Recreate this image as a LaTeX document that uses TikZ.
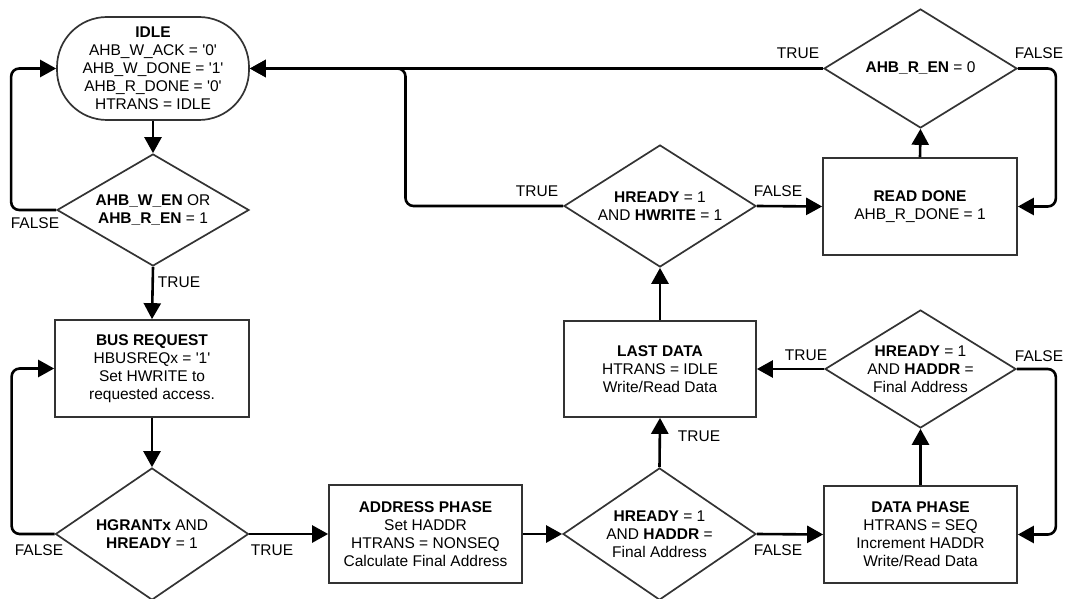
\documentclass[tikz,border=0pt]{standalone}
\usepackage{fontspec}
\setmainfont{Liberation Sans}[Ligatures=TeXOff]
\usetikzlibrary{arrows.meta,shapes.geometric}
\definecolor{edge}{RGB}{51,51,51}
\begin{document}
\begin{tikzpicture}[x=1pt,y=-1pt,
  font=\fontsize{15.5}{18}\selectfont,
  outline/.style={draw=edge,line width=1.7pt,fill=white,align=center,inner sep=0pt},
  box/.style={outline,rectangle,minimum width=193pt,minimum height=97pt},
  test/.style={outline,diamond,minimum width=193pt},
  wire/.style={line width=2.6pt,rounded corners=8pt,-{Triangle[length=16pt,width=17pt]}},
  tag/.style={inner sep=0pt}]
\useasboundingbox (0,0) rectangle (1065,599);

% states
\node[outline,rectangle,rounded corners=50pt,minimum width=192pt,minimum height=103pt] (idle) at (153,68.5)
  {\textbf{IDLE}\\AHB\_W\_ACK = '0'\\AHB\_W\_DONE = '1'\\AHB\_R\_DONE = '0'\\HTRANS = IDLE};
\node[box,minimum width=194pt] (busreq) at (152,368.5)
  {\textbf{BUS REQUEST}\\HBUSREQx = '1'\\Set HWRITE to\\requested access.};
\node[box,minimum height=98pt] (addr) at (425.5,534)
  {\textbf{ADDRESS PHASE}\\Set HADDR\\HTRANS = NONSEQ\\Calculate Final Address};
\node[box] (datap) at (920.5,534.5)
  {\textbf{DATA PHASE}\\HTRANS = SEQ\\Increment HADDR\\Write/Read Data};
\node[box,minimum width=192pt,minimum height=96pt] (lastd) at (660,369)
  {\textbf{LAST DATA}\\HTRANS = IDLE\\Write/Read Data};
\node[box,minimum width=194pt] (readd) at (920,206.5)
  {\textbf{READ DONE}\\AHB\_R\_DONE = 1};

% decisions
\node[test,minimum width=192pt,minimum height=112pt,
  label={[align=center]center:{\textbf{AHB\_W\_EN} OR\\\textbf{AHB\_R\_EN} = 1}}] (d1) at (153,210) {};
\node[test,minimum height=132pt,
  label={[align=center]center:{\textbf{HGRANTx} AND\\\textbf{HREADY} = 1}}] (d2) at (152,534) {};
\node[test,minimum height=132pt,
  label={[align=center]center:{\textbf{HREADY} = 1\\AND \textbf{HADDR} =\\Final Address}}] (d3) at (659.5,534) {};
\node[test,minimum width=191pt,minimum height=118pt,
  label={[align=center]center:{\textbf{HREADY} = 1\\AND \textbf{HADDR} =\\Final Address}}] (d4) at (920.5,369) {};
\node[test,minimum width=192pt,minimum height=122pt,
  label={[align=center]center:{\textbf{HREADY} = 1\\AND \textbf{HWRITE} = 1}}] (d5) at (660,206) {};
\node[test,minimum height=119pt,
  label={center:{\textbf{AHB\_R\_EN} = 0}}] (d6) at (920.5,68.5) {};

% transitions
\draw[wire] (idle.south) -- (d1.north);
\draw[wire] (d1.south) -- (busreq.north);
\draw[wire] (d1.west) -- ++(-45,0) |- (idle.west);
\draw[wire] (busreq.south) -- (d2.north);
\draw[wire] (d2.west) -- ++(-43,0) |- (busreq.west);
\draw[wire] (d2.east) -- (addr.west);
\draw[wire] (addr.east) -- (d3.west);
\draw[wire] (d3.east) -- (datap.west);
\draw[wire] (d3.north) -- (lastd.south);
\draw[wire] (datap.north) -- (d4.south);
\draw[wire] (d4.west) -- (lastd.east);
\draw[wire] (d4.east) -- ++(39,0) |- (datap.east);
\draw[wire] (lastd.north) -- (d5.south);
\draw[wire] (d5.west) -| (405.5,68.5) -- (idle.east);
\draw[wire] (d5.east) -- (readd.west);
\draw[wire] (readd.north) -- (d6.south);
\draw[wire] (d6.west) -- (idle.east);
\draw[wire] (d6.east) -- ++(38,0) |- (readd.east);

% branch labels
\node[tag] (t1) at (179,282) {TRUE};
\node[tag] (f1) at (35,223) {FALSE};
\node[tag] (f2) at (39,550) {FALSE};
\node[tag] (t2) at (272,550) {TRUE};
\node[tag] (f3) at (778,550) {FALSE};
\node[tag] (t3) at (699,436) {TRUE};
\node[tag] (t4) at (806,355) {TRUE};
\node[tag] (f4) at (1039,356) {FALSE};
\node[tag] (t5) at (537,191) {TRUE};
\node[tag] (f5) at (778,191) {FALSE};
\node[tag] (t6) at (798,53) {TRUE};
\node[tag] (f6) at (1039,53) {FALSE};
\end{tikzpicture}
\end{document}
